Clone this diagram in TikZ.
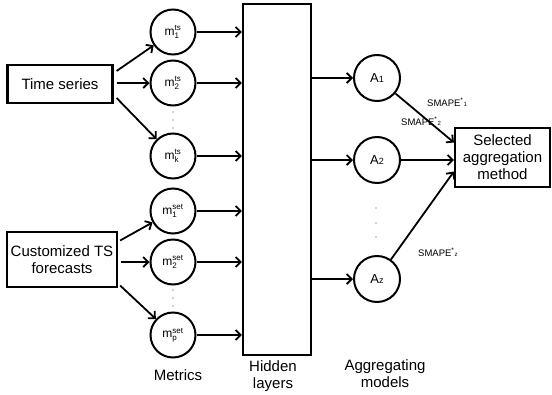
\documentclass[tikz,border=0pt]{standalone}
\usepackage{amsmath}
\usepackage{fontspec}
\setmainfont{Liberation Sans}
\usetikzlibrary{arrows.meta}
\newcommand{\smp}[1]{SMAPE\textsuperscript{*}{\fontsize{6}{7}\selectfont #1}}
\newcommand{\ali}[1]{A{\fontsize{9}{10}\selectfont #1}}
\begin{document}
\begin{tikzpicture}[x=1pt,y=-1pt,
  box/.style={draw, line width=2.2pt, inner sep=0pt, align=center, font=\fontsize{15}{17}\selectfont},
  mnode/.style={draw, circle, line width=2pt, minimum size=45pt, inner sep=0pt, font=\fontsize{12}{13}\selectfont},
  anode/.style={draw, circle, line width=2pt, minimum size=46pt, inner sep=0pt, font=\fontsize{13}{14}\selectfont},
  arr/.style={line width=1.8pt, -{Straight Barb[length=5pt,width=10pt]}},
  lbl/.style={font=\fontsize{15}{17}\selectfont, align=center, inner sep=0pt},
  sm/.style={font=\fontsize{9.5}{10}\selectfont, inner sep=0pt, anchor=west},
  dotn/.style={fill=gray!70, circle, inner sep=0pt, minimum size=1.8pt}
]
\useasboundingbox (0,0) rectangle (552,394);

% input boxes
\node[box, minimum width=105pt, minimum height=38pt] (ts) at (60,84) {Time series};
\node[box, minimum width=110pt, minimum height=55pt] (cu) at (62,259.5) {Customized TS\\forecasts};

% metric circles
\node[mnode] (m1)  at (173,32)  {$\text{m}^{\text{ts}}_{\text{1}}$};
\node[mnode] (m2)  at (173,83)  {$\text{m}^{\text{ts}}_{\text{2}}$};
\node[mnode] (mk)  at (173,156) {$\text{m}^{\text{ts}}_{\text{k}}$};
\node[mnode] (m1s) at (173,211) {$\text{m}^{\text{set}}_{\text{1}}$};
\node[mnode] (m2s) at (173,262) {$\text{m}^{\text{set}}_{\text{2}}$};
\node[mnode] (mp)  at (173,335) {$\text{m}^{\text{set}}_{\text{p}}$};

% dots
\node[dotn] (d1) at (173,112) {};
\node[dotn] (d2) at (173,120) {};
\node[dotn] (d3) at (173,128) {};
\node[dotn] (d4) at (173,290) {};
\node[dotn] (d5) at (173,298) {};
\node[dotn] (d6) at (173,306) {};

% hidden layers
\node[draw, line width=2.2pt, minimum width=68pt, minimum height=351pt, inner sep=0pt] (hid) at (277,179.5) {};

% aggregating models
\node[anode] (A1) at (377,78)  {\ali{1}};
\node[anode] (A2) at (377,160) {\ali{2}};
\node[anode] (Az) at (377,279) {\ali{z}};
\node[dotn] (d7) at (376,208) {};
\node[dotn] (d8) at (376,223) {};
\node[dotn] (d9) at (376,237) {};

% selected
\node[box, minimum width=95pt, minimum height=59pt] (sel) at (502.5,157.5) {Selected\\aggregation\\method};

% arrows: inputs to metrics
\draw[arr] ([shift={(3,-13)}]ts.east) -- (m1);
\draw[arr, shorten <=3pt] (ts.east |- m2.west) -- (m2.west);
\draw[arr] ([shift={(3,14)}]ts.east) -- (mk);
\draw[arr] ([shift={(2,-19)}]cu.east) -- (m1s);
\draw[arr, shorten <=3pt] (cu.east |- m2s.west) -- (m2s.west);
\draw[arr] ([shift={(2,26)}]cu.east) -- (mp);

% metrics to hidden
\foreach \n in {m1,m2,mk,m1s,m2s,mp}
  \draw[arr] (\n.east) -- (\n.east -| hid.west);

% hidden to aggregating
\foreach \n in {A1,A2,Az}
  \draw[arr] (\n.west -| hid.east) -- (\n.west);

% aggregating to selected
\draw[arr] (A1) -- ([shift={(0,-15)}]sel.west);
\draw[arr] (A2.east) -- (A2.east -| sel.west);
\draw[arr] (Az) -- ([shift={(0,14)}]sel.west);

% SMAPE labels
\node[sm] (s1) at (427,102) {\smp{1}};
\node[sm] (s2) at (401,121) {\smp{2}};
\node[sm] (sz) at (418,252) {\smp{z}};

% bottom labels
\node[lbl] (lm) at (178,375) {Metrics};
\node[lbl] (lh) at (273,376) {Hidden\\layers};
\node[lbl] (la) at (385,374) {Aggregating\\models};
\end{tikzpicture}
\end{document}
